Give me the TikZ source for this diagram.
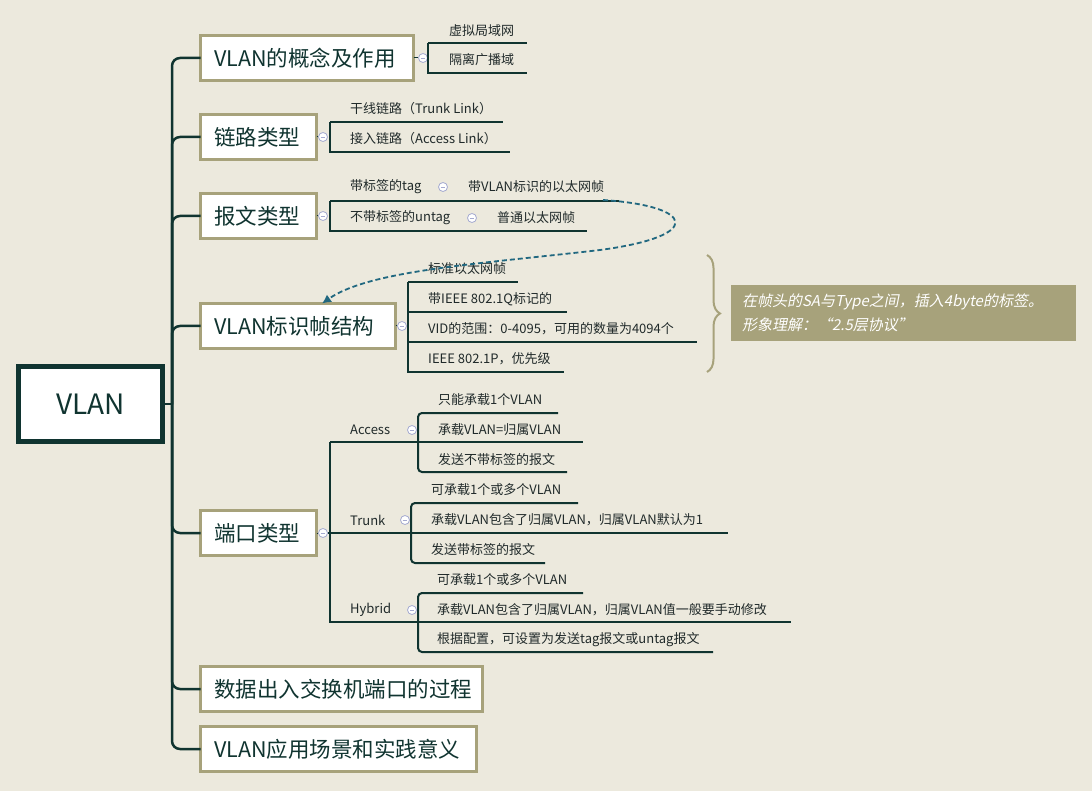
\documentclass[tikz,border=0pt]{standalone}
\usepackage{fontspec}
\setmainfont{Noto Sans CJK SC}
\newfontfamily\notefont[FakeSlant=0.2]{Noto Sans CJK SC}
\usetikzlibrary{arrows.meta, positioning, calc, decorations.pathreplacing}
\definecolor{paper}{RGB}{236,233,221}
\definecolor{olive}{RGB}{167,162,123}
\definecolor{ink}{RGB}{16,52,48}
\definecolor{txt}{RGB}{32,42,42}
\definecolor{linkblue}{RGB}{33,104,128}
\definecolor{foldc}{RGB}{165,170,208}

\tikzset{
  topic/.style={draw=olive, line width=3pt, fill=white, anchor=west, outer sep=0pt,
    minimum height=45pt, inner xsep=13.5pt, align=left, text=ink,
    font=\fontsize{21.5}{24}\selectfont},
  sub/.style={anchor=west, inner sep=0pt, text=txt, font=\fontsize{13}{15}\selectfont},
  branch/.style={draw=ink, line width=2pt},
  trunk/.style={draw=ink, line width=2.5pt, rounded corners=8pt},
  fold/.style={circle, draw=foldc, fill=white, line width=0.8pt, minimum size=9pt, inner sep=0pt,
    path picture={\draw[foldc, line width=0.9pt] ([xshift=2.2pt]path picture bounding box.west)
      -- ([xshift=-2.2pt]path picture bounding box.east);}},
}

\begin{document}
\begin{tikzpicture}[x=1pt, y=-1pt]
  \fill[paper] (0,0) rectangle (1092,791);
  \useasboundingbox (0,0) rectangle (1092,791);

  % Root and main topics
  \node[draw=ink, line width=5pt, fill=white, outer sep=0pt, minimum width=144pt, minimum height=74pt,
    text=ink, font=\fontsize{28}{30}\selectfont] (root) at (90.5,404) {VLAN};
  \node[topic, text width=186pt] (t1) at (200.5,58) {VLAN的概念及作用};
  \node[topic, text width=89pt] (t2) at (200.5,137) {链路类型};
  \node[topic, text width=89pt] (t3) at (200.5,216) {报文类型};
  \node[topic, text width=168pt] (t4) at (200.5,326) {VLAN标识帧结构};
  \node[topic, text width=89pt] (t5) at (200.5,533) {端口类型};
  \node[topic, text width=255pt] (t6) at (200.5,689) {数据出入交换机端口的过程};
  \node[topic, text width=249pt] (t7) at (200.5,749) {VLAN应用场景和实践意义};

  \coordinate (hub) at (172,404);
  \draw[trunk] (root.east) -- (hub);
  \foreach \t in {t1,t2,t3,t4,t5,t6,t7}
    \draw[trunk] (hub) |- (\t.west);

  % VLAN的概念及作用
  \node[fold] (f1) at (423,58) {};
  \draw[ink, line width=1pt] (t1.east) -- (f1);
  \node[sub] (s11) at (449,31) {虚拟局域网};
  \node[sub] (s12) at (449,60) {隔离广播域};
  \coordinate (b1a) at (428,43);
  \coordinate (b1b) at (428,73);
  \draw[branch] (b1a) -- ++(99,0);
  \draw[branch] (b1a) -- (b1b) -- ++(99,0);

  % 链路类型
  \node[fold] (f2) at (323,137) {};
  \draw[ink, line width=1pt] (t2.east) -- (f2);
  \node[sub] (s21) at (350,109) {干线链路（Trunk Link）};
  \node[sub] (s22) at (350,139) {接入链路（Access Link）};
  \coordinate (b2a) at (330,122);
  \coordinate (b2b) at (330,152);
  \draw[branch] (b2a) -- ++(173,0);
  \draw[branch] (b2a) -- (b2b) -- ++(180,0);

  % 报文类型
  \node[fold] (f3) at (323,216) {};
  \draw[ink, line width=1pt] (t3.east) -- (f3);
  \node[sub] (s31) at (350,187) {带标签的tag};
  \node[fold] (f31) at (443,187) {};
  \node[sub] (g31) at (468,187) {带VLAN标识的以太网帧};
  \node[sub] (s32) at (350,218) {不带标签的untag};
  \node[fold] (f32) at (472,218) {};
  \node[sub] (g32) at (497,218) {普通以太网帧};
  \coordinate (b3a) at (330,201);
  \coordinate (b3b) at (330,231);
  \draw[branch] (b3a) -- ++(289,0);
  \draw[branch] (b3a) -- (b3b) -- ++(257,0);

  % VLAN标识帧结构
  \node[fold] (f4) at (402,326) {};
  \draw[ink, line width=1pt] (t4.east) -- (f4);
  \node[sub] (s41) at (428,269) {标准以太网帧};
  \node[sub] (s42) at (428,299) {带IEEE 802.1Q标记的};
  \node[sub] (s43) at (428,329) {VID的范围：0-4095，可用的数量为4094个};
  \node[sub] (s44) at (428,359) {IEEE 802.1P，优先级};
  \coordinate (b4a) at (408,282);
  \coordinate (b4b) at (408,372);
  \draw[branch] (b4a) -- ++(110,0);
  \draw[branch] (b4a |- 0,312) -- ++(159,0);
  \draw[branch] (b4a |- 0,342) -- ++(289,0);
  \draw[branch] (b4a) -- (b4b) -- ++(156,0);

  % Link between frame types
  \coordinate (lk) at (603,200);
  \draw[linkblue, line width=1.8pt, dash pattern=on 5pt off 3pt, -{Latex[length=9pt,width=9pt]}]
    (lk) .. controls (695,206) and (705,236) .. (600,250)
    .. controls (480,264) and (370,270) .. ([xshift=24pt]t4.north);

  % Summary and note
  \coordinate (br1) at (707,255);
  \coordinate (br2) at (707,372);
  \draw[olive, line width=2pt, decorate, decoration={brace, amplitude=13pt}] (br1) -- (br2);
  \node[fill=olive, minimum width=345pt, minimum height=56pt, text width=323pt, inner xsep=11pt,
    align=left, text=white, font=\notefont\fontsize{15}{24}\selectfont] (note) at (903.5,313)
    {在帧头的SA与Type之间，插入4byte的标签。\\形象理解：“2.5层协议”};

  % 端口类型
  \node[fold] (f5) at (323,533) {};
  \draw[ink, line width=1pt] (t5.east) -- (f5);
  \coordinate (b5a) at (330,442);
  \coordinate (b5b) at (330,622);
  \draw[branch] (f5) -- (f5 -| b5a);
  \draw[branch] (b5a |- 0,533) -- ++(398,0);
  \draw[branch] (b5a) -- ++(253,0);
  \draw[branch] (b5a) -- (b5b) -- ++(461,0);

  \node[sub] (pa) at (350,430) {Access};
  \node[fold] (fa) at (412,430) {};
  \node[sub] (pa1) at (438,400) {只能承载1个VLAN};
  \node[sub] (pa2) at (438,430) {承载VLAN=归属VLAN};
  \node[sub] (pa3) at (438,460) {发送不带标签的报文};
  \draw[branch, rounded corners=4pt] (558,413) -- (418,413) -- (418,472) -- (567,472);

  \node[sub] (pt) at (350,520) {Trunk};
  \node[fold] (ft) at (405,520) {};
  \node[sub] (pt1) at (431,490) {可承载1个或多个VLAN};
  \node[sub] (pt2) at (431,520) {承载VLAN包含了归属VLAN，归属VLAN默认为1};
  \node[sub] (pt3) at (431,550) {发送带标签的报文};
  \draw[branch, rounded corners=4pt] (578,503) -- (411,503) -- (411,563) -- (545,563);

  \node[sub] (ph) at (350,610) {Hybrid};
  \node[fold] (fh) at (412,610) {};
  \node[sub] (ph1) at (437,580) {可承载1个或多个VLAN};
  \node[sub] (ph2) at (437,610) {承载VLAN包含了归属VLAN，归属VLAN值一般要手动修改};
  \node[sub] (ph3) at (437,640) {根据配置，可设置为发送tag报文或untag报文};
  \draw[branch, rounded corners=4pt] (583,593) -- (418,593) -- (418,652) -- (713,652);
\end{tikzpicture}
\end{document}
